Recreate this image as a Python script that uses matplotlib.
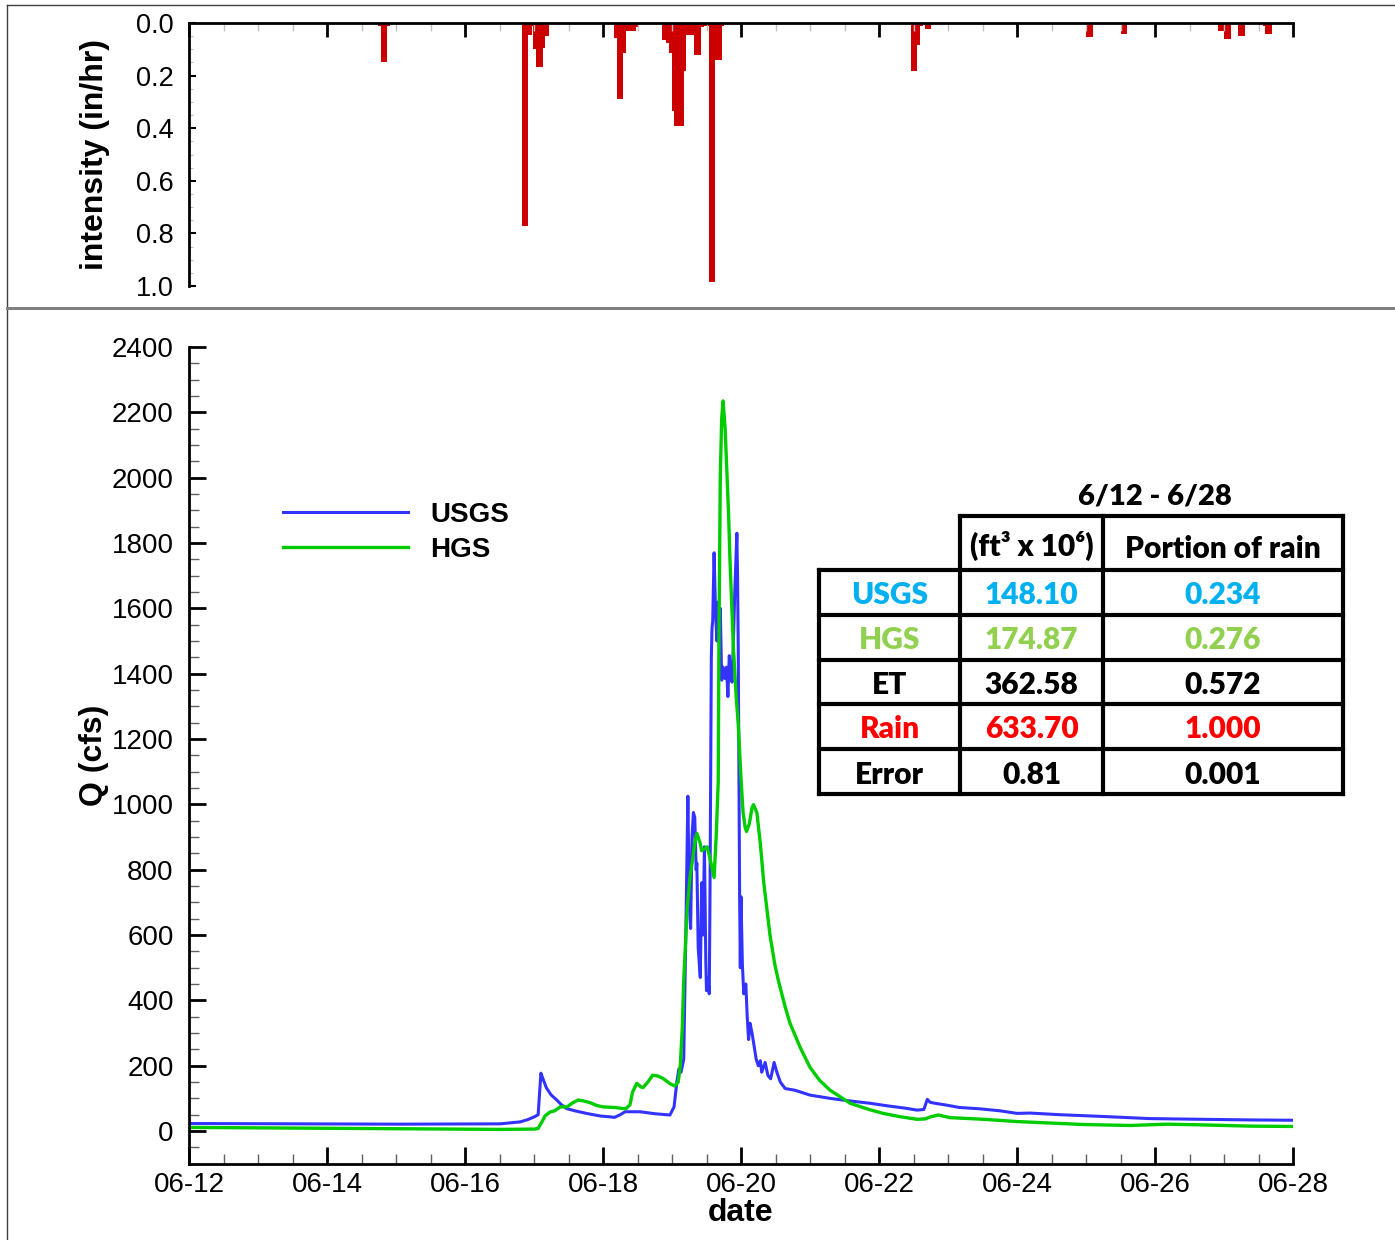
import numpy as np
import matplotlib
matplotlib.use('Agg')
import matplotlib.pyplot as plt
import matplotlib.dates as mdates
from matplotlib.lines import Line2D
from matplotlib.ticker import MultipleLocator, FormatStrFormatter

plt.rcParams['font.family'] = ['Liberation Sans', 'DejaVu Sans']

# time axis: days since 06-12 00:00
t0 = mdates.date2num(np.datetime64('2013-06-12'))

# rain intensity bars (start day, end day, in/hr)
rain_start = [2.74, 2.78, 2.87, 4.82, 4.92, 4.97, 4.99, 5.03, 5.13, 5.16,
              6.16, 6.20, 6.29, 6.34, 6.48, 6.86, 6.91, 6.95, 7.00, 7.03,
              7.17, 7.21, 7.32, 7.42, 7.46, 7.53, 7.63, 7.72, 10.46, 10.55,
              10.59, 10.67, 13.00, 13.50, 14.91, 15.00, 15.21, 15.57, 15.60]
rain_end = [2.78, 2.87, 2.91, 4.92, 4.97, 4.99, 5.03, 5.13, 5.16, 5.22,
            6.20, 6.29, 6.34, 6.48, 6.51, 6.91, 6.95, 7.00, 7.03, 7.17,
            7.21, 7.32, 7.42, 7.46, 7.53, 7.63, 7.72, 7.75, 10.55, 10.59,
            10.64, 10.76, 13.10, 13.60, 15.00, 15.10, 15.31, 15.60, 15.70]
rain_int = [0.01, 0.15, 0.01, 0.77, 0.046, 0.01, 0.10, 0.166, 0.095, 0.05,
            0.058, 0.289, 0.113, 0.029, 0.015, 0.065, 0.077, 0.115, 0.333, 0.392,
            0.182, 0.046, 0.122, 0.014, 0.01, 0.985, 0.141, 0.01, 0.183, 0.084,
            0.01, 0.023, 0.055, 0.043, 0.029, 0.062, 0.048, 0.01, 0.043]

# observed discharge (USGS)
usgs_day = [0.0, 1.61, 3.06, 4.51, 4.80, 4.91, 5.01, 5.06, 5.10, 5.13,
            5.18, 5.25, 5.33, 5.39, 5.47, 5.59, 5.76, 5.96, 6.07, 6.17,
            6.25, 6.32, 6.54, 6.75, 6.97, 7.03, 7.07, 7.10, 7.13, 7.17,
            7.20, 7.23, 7.25, 7.27, 7.29, 7.31, 7.33, 7.35, 7.36, 7.38,
            7.41, 7.43, 7.45, 7.47, 7.49, 7.50, 7.52, 7.54, 7.55, 7.57,
            7.58, 7.59, 7.61, 7.63, 7.65, 7.67, 7.68, 7.70, 7.72, 7.74,
            7.77, 7.79, 7.81, 7.83, 7.85, 7.87, 7.89, 7.91, 7.94, 7.95,
            7.96, 7.98, 7.99, 8.00, 8.02, 8.04, 8.07, 8.09, 8.11, 8.13,
            8.16, 8.19, 8.22, 8.25, 8.28, 8.30, 8.35, 8.39, 8.43, 8.48,
            8.52, 8.57, 8.64, 8.78, 9.00, 9.29, 9.58, 9.87, 10.16, 10.38,
            10.55, 10.65, 10.70, 10.74, 10.81, 10.96, 11.17, 11.46, 11.75, 12.00,
            12.19, 12.62, 13.20, 13.93, 14.65, 15.38, 16.00]
usgs_q = [23, 22, 21, 22, 28, 35, 44, 50, 177, 160,
          132, 110, 95, 82, 69, 62, 54, 46, 44, 42,
          50, 59, 59, 53, 49, 74, 150, 190, 180, 220,
          600, 1025, 700, 620, 900, 975, 960, 800, 820, 560,
          470, 760, 600, 870, 520, 430, 470, 420, 700, 1450,
          1540, 1560, 1770, 1600, 1500, 1620, 1550, 1600, 1380, 1420,
          1385, 1420, 1330, 1455, 1400, 1374, 1500, 1650, 1830, 1700,
          1480, 720, 500, 717, 510, 420, 450, 350, 280, 330,
          300, 260, 220, 200, 215, 180, 210, 170, 160, 210,
          180, 150, 130, 125, 110, 100, 92, 85, 76, 70,
          64, 66, 97, 88, 85, 80, 72, 68, 62, 54,
          55, 50, 45, 38, 36, 34, 33]

# simulated discharge (HGS)
hgs_day = [0.0, 2.33, 4.51, 5.01, 5.06, 5.12, 5.16, 5.23, 5.30, 5.38,
           5.48, 5.55, 5.64, 5.72, 5.81, 5.91, 6.00, 6.17, 6.33, 6.39,
           6.43, 6.49, 6.55, 6.58, 6.65, 6.72, 6.80, 6.87, 6.97, 7.04,
           7.09, 7.12, 7.15, 7.17, 7.22, 7.26, 7.33, 7.36, 7.41, 7.43,
           7.48, 7.51, 7.55, 7.61, 7.64, 7.67, 7.68, 7.70, 7.72, 7.74,
           7.77, 7.82, 7.84, 7.89, 7.93, 7.96, 8.00, 8.03, 8.06, 8.08,
           8.12, 8.16, 8.18, 8.23, 8.28, 8.33, 8.42, 8.49, 8.54, 8.64,
           8.71, 8.86, 9.00, 9.14, 9.29, 9.51, 9.58, 9.87, 10.06, 10.30,
           10.55, 10.67, 10.74, 10.86, 11.03, 11.51, 12.00, 12.96, 13.64, 14.17,
           14.65, 15.38, 16.00]
hgs_q = [11, 8, 5, 6, 8, 30, 46, 58, 62, 74,
         74, 85, 95, 92, 87, 78, 74, 72, 68, 80,
         120, 146, 135, 133, 150, 171, 168, 161, 145, 138,
         150, 200, 320, 462, 680, 776, 880, 911, 880, 858,
         865, 870, 835, 776, 900, 1069, 1500, 2006, 2180, 2235,
         2150, 1889, 1750, 1479, 1330, 1245, 1080, 975, 930, 917,
         940, 990, 999, 975, 880, 760, 600, 510, 462, 380,
         330, 255, 195, 155, 125, 95, 85, 65, 54, 44,
         36, 37, 43, 49, 41, 36, 29, 20, 17, 21,
         19, 15, 14]

# water balance table
table_title = '6/12 - 6/28'
table_head = ['(ft\u00b3 x 10\u2076)', 'Portion of rain']
table_rows = ['USGS', 'HGS', 'ET', 'Rain', 'Error']
table_vol = ['148.10', '174.87', '362.58', '633.70', '0.81']
table_frac = ['0.234', '0.276', '0.572', '1.000', '0.001']
row_colors = ['#00b0f0', '#92d050', 'black', '#ff0000', 'black']

W, H = 1395, 1240
fig = plt.figure(figsize=(W / 100, H / 100), dpi=100)


def fx(px):
    return px / W


def fy(py):
    return 1 - py / H


ax1 = fig.add_axes([fx(189), fy(286), 1104 / W, 263 / H])
ax2 = fig.add_axes([fx(189), fy(1163.7), 1104 / W, 816.7 / H])

# ---- rain panel ----
rs = np.array(rain_start)
re = np.array(rain_end)
ax1.bar(t0 + rs, rain_int, width=re - rs, align='edge', color='#cc0000', linewidth=0)
ax1.set_xlim(t0, t0 + 16)
ax1.set_ylim(1.0, 0.0)
for s in ['right', 'bottom']:
    ax1.spines[s].set_visible(False)
for s in ['top', 'left']:
    ax1.spines[s].set_linewidth(2)
ax1.xaxis.tick_top()
ax1.xaxis.set_major_locator(mdates.DayLocator(bymonthday=range(12, 29, 2)))
ax1.xaxis.set_minor_locator(mdates.HourLocator(byhour=[0, 12]))
ax1.tick_params(axis='x', which='major', direction='in', length=10, width=2, labeltop=False)
ax1.tick_params(axis='x', which='minor', direction='in', length=6, width=1, color='#c0c0c0')
ax1.yaxis.set_major_locator(MultipleLocator(0.2))
ax1.yaxis.set_minor_locator(MultipleLocator(0.05))
ax1.yaxis.set_major_formatter(FormatStrFormatter('%.1f'))
ax1.tick_params(axis='y', which='major', direction='in', length=5, width=1.5, labelsize=19.5, pad=11)
ax1.tick_params(axis='y', which='minor', direction='in', length=3, width=0.8, color='#c0c0c0')

# ---- discharge panel ----
ax2.plot(t0 + np.array(usgs_day), usgs_q, color='#3333ff', lw=2.2, label='USGS')
ax2.plot(t0 + np.array(hgs_day), hgs_q, color='#00cc00', lw=2.4, label='HGS')
ax2.set_xlim(t0, t0 + 16)
ax2.set_ylim(-100, 2400)
for s in ['right', 'top']:
    ax2.spines[s].set_visible(False)
for s in ['bottom', 'left']:
    ax2.spines[s].set_linewidth(2)
ax2.xaxis.set_major_locator(mdates.DayLocator(bymonthday=range(12, 29, 2)))
ax2.xaxis.set_minor_locator(mdates.HourLocator(byhour=[0, 12]))
ax2.xaxis.set_major_formatter(mdates.DateFormatter('%m-%d'))
ax2.yaxis.set_major_locator(MultipleLocator(200))
ax2.yaxis.set_minor_locator(MultipleLocator(50))
ax2.tick_params(axis='both', which='major', direction='in', length=12, width=2, labelsize=20)
ax2.tick_params(axis='both', which='minor', direction='in', length=7, width=1, color='#606060')
ax2.tick_params(axis='x', which='major', pad=6)
ax2.tick_params(axis='y', which='major', pad=11)

ax2.legend(loc='upper left', bbox_to_anchor=(0.085, 0.810), frameon=False,
           handlelength=4.5, handletextpad=0.8, labelspacing=0.32, borderpad=0,
           borderaxespad=0, prop={'weight': 'bold', 'size': 20})

# axis titles
lab = dict(fontsize=23, fontweight='bold')
fig.text(fx(95), fy(155), 'intensity (in/hr)', rotation=90, ha='center', va='center', **lab)
fig.text(fx(94), fy(755), 'Q (cfs)', rotation=90, ha='center', va='center', **lab)
fig.text(fx(741), fy(1213), 'date', ha='center', va='center', **lab)

# ---- table ----
tf = dict(fontsize=21.5, fontweight='heavy', family=['Lato', 'DejaVu Sans'], ha='center', va='center')
xs = [819, 960, 1103, 1343]
ys = [516, 570, 615, 660, 704, 749, 794]
lk = dict(color='black', lw=3, solid_capstyle='projecting')
fig.add_artist(Line2D([fx(xs[1]), fx(xs[3])], [fy(ys[0])] * 2, **lk))
for y in ys[1:]:
    fig.add_artist(Line2D([fx(xs[0]), fx(xs[3])], [fy(y)] * 2, **lk))
fig.add_artist(Line2D([fx(xs[0])] * 2, [fy(ys[1]), fy(ys[-1])], **lk))
for x in xs[1:]:
    fig.add_artist(Line2D([fx(x)] * 2, [fy(ys[0]), fy(ys[-1])], **lk))

fig.text(fx(1155), fy(496), table_title, fontsize=21, fontweight='heavy',
         family=['Lato', 'DejaVu Sans'], ha='center', va='center')
fig.text(fx((xs[1] + xs[2]) / 2), fy(546), table_head[0], **tf)
fig.text(fx((xs[2] + xs[3]) / 2), fy(549), table_head[1], **tf)
for i, name in enumerate(table_rows):
    yc = fy((ys[i + 1] + ys[i + 2]) / 2 + 3)
    fig.text(fx((xs[0] + xs[1]) / 2), yc, name, color=row_colors[i], **tf)
    fig.text(fx((xs[1] + xs[2]) / 2), yc, table_vol[i], color=row_colors[i], **tf)
    fig.text(fx((xs[2] + xs[3]) / 2), yc, table_frac[i], color=row_colors[i], **tf)

# page frame / separator
fig.add_artist(Line2D([fx(7), 1], [fy(5)] * 2, color='#404040', lw=1))
fig.add_artist(Line2D([fx(7)] * 2, [fy(5), 0], color='#404040', lw=1))
fig.add_artist(Line2D([fx(7), 1], [fy(308)] * 2, color='#808080', lw=2.2))

fig.savefig('out.png', dpi=100)
